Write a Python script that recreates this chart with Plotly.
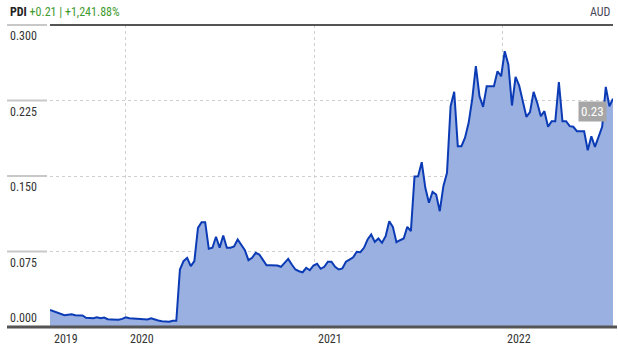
import pandas as pd
import plotly.graph_objects as go

# ---- data ----
start_date = "2019-08-07"
values = [
    0.0169, 0.0154, 0.0141, 0.0129, 0.0117, 0.0122, 0.0127, 0.0117, 0.0115, 0.0114,
    0.0091, 0.0089, 0.0087, 0.0097, 0.0087, 0.0094, 0.0077, 0.0075, 0.0073, 0.0072,
    0.0081, 0.0097, 0.0087, 0.0084, 0.0081, 0.0077, 0.0073, 0.0074, 0.0087, 0.0072,
    0.0065, 0.0058, 0.0053, 0.0053, 0.0062, 0.0062,
    0.0571, 0.0654, 0.0687, 0.0604, 0.0654, 0.0985, 0.1041, 0.1041, 0.0777, 0.0787,
    0.0896, 0.0787, 0.0909, 0.0787, 0.0787, 0.0800, 0.0869, 0.0810, 0.0763, 0.0664,
    0.0687, 0.0737, 0.0720, 0.0667, 0.0614, 0.0614, 0.0614, 0.0610, 0.0598, 0.0637,
    0.0677, 0.0621, 0.0571, 0.0554, 0.0544, 0.0588, 0.0564, 0.0611, 0.0628, 0.0578,
    0.0598, 0.0648, 0.0648, 0.0598, 0.0571, 0.0581, 0.0648, 0.0670, 0.0693, 0.0747,
    0.0743, 0.0787, 0.0869, 0.0919, 0.0846, 0.0879, 0.0836, 0.0902, 0.1051, 0.0995,
    0.0842, 0.0862, 0.0879, 0.0995, 0.0952, 0.1495, 0.1498, 0.1637, 0.1383, 0.1234,
    0.1343, 0.1316, 0.1150, 0.1399, 0.1532, 0.2193, 0.2336, 0.1796, 0.1796, 0.1880,
    0.2028, 0.2267, 0.2591, 0.2293, 0.2187, 0.2392, 0.2392, 0.2392, 0.2541, 0.2491,
    0.2740, 0.2608, 0.2200, 0.2485, 0.2399, 0.2240, 0.2088, 0.2134, 0.2336, 0.2227,
    0.2094, 0.2144, 0.1989, 0.2044, 0.2044, 0.2432, 0.2044, 0.2044, 0.1995, 0.1989,
    0.1945, 0.1945, 0.1945, 0.1756, 0.1895, 0.1790, 0.1895, 0.1989, 0.2386, 0.2193,
    0.2268,
]
y_ticks = [0.0, 0.075, 0.150, 0.225, 0.300]
y_tick_labels = ["0.000", "0.075", "0.150", "0.225", "0.300"]
x_tick_dates = ["2020-01-01", "2021-01-01", "2022-01-01"]
x_tick_labels = ["2019", "2020", "2021", "2022"]
ticker = "PDI"
change_text = "+0.21 | +1,241.88%"
currency = "AUD"
last_label = "0.23"

dates = pd.date_range(start_date, periods=len(values), freq="7D")
y_max = y_ticks[-1]

FONT = "Liberation Sans Narrow, Roboto Condensed, Arial Narrow, Liberation Sans, sans-serif"
LINE = "#0b3bb5"
FILL = "#9ab0e0"

fig = go.Figure()
fig.add_trace(go.Scatter(
    x=dates, y=values, mode="lines",
    line=dict(color=LINE, width=2),
    fill="tozeroy", fillcolor=FILL,
    hoverinfo="skip", showlegend=False,
))

PW = 563.0  # plot width px

shapes = []
# left margin tick lines at each level
for v in y_ticks[1:-1]:
    shapes.append(dict(type="line", xref="paper", yref="paper",
                       x0=-43 / PW, x1=-3 / PW, y0=v / y_max, y1=v / y_max,
                       line=dict(color="#c8c8c8", width=2), layer="above"))
# top: grey left part + dark border over the plot
shapes.append(dict(type="line", xref="paper", yref="paper",
                   x0=-43 / PW, x1=-3 / PW, y0=1, y1=1,
                   line=dict(color="#c8c8c8", width=2), layer="above"))
shapes.append(dict(type="line", xref="paper", yref="paper",
                   x0=0, x1=1, y0=1, y1=1,
                   line=dict(color="#555555", width=2), layer="above"))
# bottom axis line
shapes.append(dict(type="line", xref="paper", yref="paper",
                   x0=-43 / PW, x1=1 + 4 / PW, y0=0, y1=0,
                   line=dict(color="#555555", width=3), layer="above"))

annotations = []
for v, t in zip(y_ticks, y_tick_labels):
    if v == 0:
        annotations.append(dict(xref="paper", yref="y", x=0, y=v, xshift=-42,
                                xanchor="left", yanchor="bottom", yshift=0,
                                text=t, showarrow=False,
                                font=dict(family=FONT, size=12, color="#333333")))
    else:
        annotations.append(dict(xref="paper", yref="y", x=0, y=v, xshift=-42,
                                xanchor="left", yanchor="top", yshift=-2,
                                text=t, showarrow=False,
                                font=dict(family=FONT, size=12, color="#333333")))

x_label_pos = [dates[0]] + [pd.Timestamp(d) for d in x_tick_dates]
for d, t in zip(x_label_pos, x_tick_labels):
    annotations.append(dict(xref="x", yref="paper", x=d, y=0, xshift=2, yshift=-12,
                            xanchor="left", yanchor="middle", text=t, showarrow=False,
                            font=dict(family=FONT, size=12, color="#333333")))

annotations.append(dict(xref="paper", yref="paper", x=0, y=1, xshift=-42, yshift=13,
                        xanchor="left", yanchor="middle", showarrow=False,
                        text=f"<b>{ticker}</b> <span style='color:#3f9b2f'>{change_text}</span>",
                        font=dict(family=FONT, size=12, color="#222222")))
annotations.append(dict(xref="paper", yref="paper", x=1, y=1, yshift=13,
                        xanchor="right", yanchor="middle", showarrow=False,
                        text=currency,
                        font=dict(family=FONT, size=12, color="#4a4a5a")))
annotations.append(dict(xref="x", yref="y", x=dates[-1], y=values[-1],
                        xanchor="right", yanchor="top", xshift=-6, yshift=-2,
                        showarrow=False, text=last_label,
                        bgcolor="#a6a6a6", borderpad=2,
                        font=dict(family=FONT, size=13, color="#ffffff")))

fig.update_layout(
    width=618, height=350,
    margin=dict(l=50, r=5, t=25, b=23),
    paper_bgcolor="white", plot_bgcolor="white",
    xaxis=dict(range=[dates[0], dates[-1]], showticklabels=False,
               tickvals=[dates[0]] + x_tick_dates, showgrid=True,
               gridcolor="#cfcfcf", griddash="dot", gridwidth=1,
               zeroline=False, showline=False, ticks=""),
    yaxis=dict(range=[0, y_max], showticklabels=False,
               tickvals=y_ticks[1:-1], showgrid=True,
               gridcolor="#cfcfcf", griddash="dot", gridwidth=1,
               zeroline=False, showline=False, ticks=""),
    shapes=shapes, annotations=annotations,
)

fig.write_html("out.html")
